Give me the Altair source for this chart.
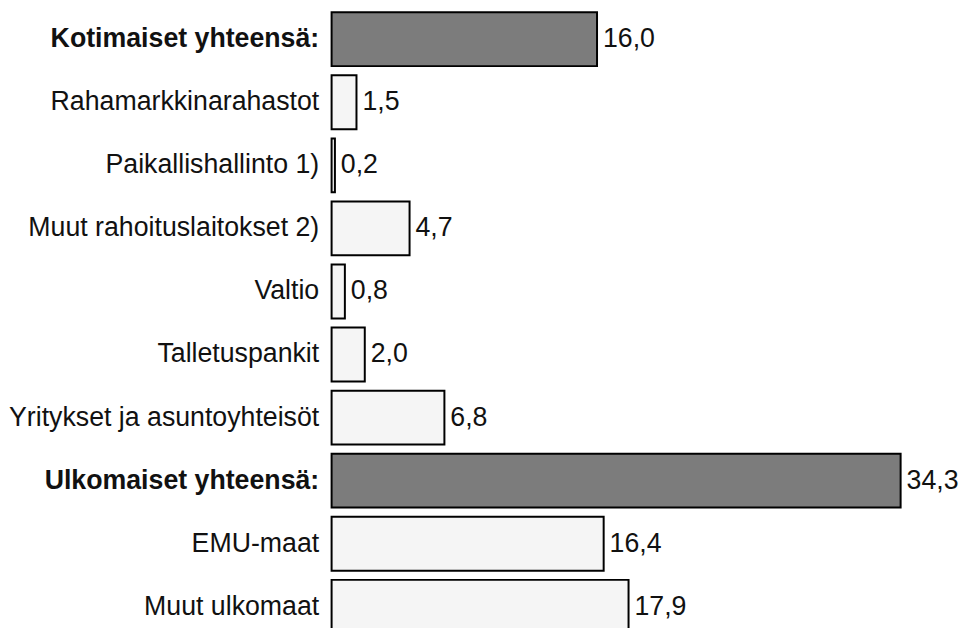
import altair as alt
import pandas as pd

categories = [
    "Kotimaiset yhteensä:",
    "Rahamarkkinarahastot",
    "Paikallishallinto 1)",
    "Muut rahoituslaitokset 2)",
    "Valtio",
    "Talletuspankit",
    "Yritykset ja asuntoyhteisöt",
    "Ulkomaiset yhteensä:",
    "EMU-maat",
    "Muut ulkomaat",
]
values = [16.0, 1.5, 0.2, 4.7, 0.8, 2.0, 6.8, 34.3, 16.4, 17.9]
is_total = [True, False, False, False, False, False, False, True, False, False]

df = pd.DataFrame({
    "cat": categories,
    "val": values,
    "total": ["yes" if t else "no" for t in is_total],
    "lbl": [f"{v:.1f}".replace(".", ",") for v in values],
})

FONT = "Liberation Sans"

y_enc = alt.Y(
    "cat:N",
    sort=categories,
    scale=alt.Scale(paddingInner=0.146, paddingOuter=0.0),
    axis=alt.Axis(
        title=None,
        domain=False,
        ticks=False,
        grid=False,
        labelFont=FONT,
        labelFontSize=27,
        labelColor="#111111",
        labelPadding=13,
        labelLimit=400,
        labelFontWeight=alt.condition(
            "indexof(datum.value, 'yhteensä') >= 0",
            alt.value("bold"),
            alt.value("normal"),
        ),
    ),
)

x_enc = alt.X(
    "val:Q",
    scale=alt.Scale(domain=[0, 34.3], nice=False, zero=True),
    axis=None,
)

bars = alt.Chart(df).mark_bar(stroke="#000000", strokeWidth=2, cornerRadius=0).encode(
    x=x_enc,
    y=y_enc,
    fill=alt.Fill(
        "total:N",
        scale=alt.Scale(domain=["yes", "no"], range=["#7c7c7c", "#f5f5f5"]),
        legend=None,
    ),
)

texts = alt.Chart(df).mark_text(
    align="left", baseline="middle", dx=6, font=FONT, fontSize=27, color="#111111"
).encode(
    x=x_enc,
    y=y_enc,
    text="lbl:N",
)

chart = (
    alt.layer(bars, texts)
    .properties(width=575, height=628, padding=0, background="white")
    .configure_view(strokeWidth=0, stroke=None)
)

chart.save("out.html", embed_options={"renderer": "svg", "actions": False})
